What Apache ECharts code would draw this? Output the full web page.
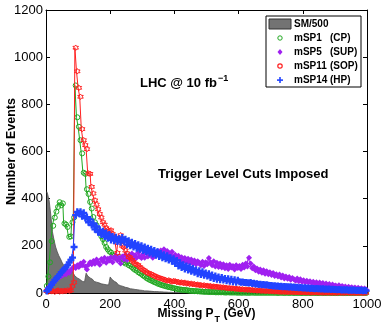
<!DOCTYPE html>
<html>
<head>
<meta charset="utf-8">
<script src="https://cdn.jsdelivr.net/npm/echarts@6/dist/echarts.min.js"></script>
<style>
  html, body { margin: 0; padding: 0; background: #fff; }
  #chart { width: 382px; height: 327px; }
</style>
</head>
<body>
<div id="chart"></div>
<script>
// histogram data, 5 GeV bins from 0 to 1000 GeV
var binWidth = 5
var seriesNames = ['SM/500', 'mSP1', 'mSP5', 'mSP11', 'mSP14']
var seriesTags = ['', '(CP)', '(SUP)', '(SOP)', '(HP)']
var xTicks = [0, 200, 400, 600, 800, 1000]
var yTicks = [0, 200, 400, 600, 800, 1000, 1200]

var smData = [
  430, 420, 390, 330, 260, 225, 195, 175, 158, 145,
  130, 118, 108, 98, 90, 80, 98, 84, 72, 64,
  58, 54, 50, 47, 44, 84, 72, 64, 58, 53,
  49, 46, 43, 41, 39, 37, 36, 35, 34, 33,
  68, 58, 50, 44, 39, 35, 31, 28, 26, 24,
  22, 20, 18, 17, 16, 15, 14, 13, 12, 11,
  10, 9, 9, 8, 8, 7, 7, 6, 6, 5,
  5, 5, 4, 4, 4, 3, 3, 3, 3, 2,
  2, 2, 2, 2, 2, 1, 1, 1, 1, 1,
  1, 1, 1, 1, 1, 1, 0, 0, 0, 0,
  0, 0, 0, 0, 0, 0, 0, 0, 0, 0,
  0, 0, 0, 0, 0, 0, 0, 0, 0, 0,
  0, 0, 0, 0, 0, 0, 0, 0, 0, 0,
  0, 0, 0, 0, 0, 0, 0, 0, 0, 0,
  0, 0, 0, 0, 0, 0, 0, 0, 0, 0,
  0, 0, 0, 0, 0, 0, 0, 0, 0, 0,
  0, 0, 0, 0, 0, 0, 0, 0, 0, 0,
  0, 0, 0, 0, 0, 0, 0, 0, 0, 0,
  0, 0, 0, 0, 0, 0, 0, 0, 0, 0,
  0, 0, 0, 0, 0, 0, 0, 0, 0, 0
]

var msp1Data = [
  30, 70, 130, 220, 285, 320, 345, 365, 385, 372,
  380, 295, 290, 280, 238, 240, 300, 320, 880, 745,
  705, 648, 592, 510, 505, 440, 420, 386, 358, 322,
  300, 287, 266, 258, 240, 228, 212, 195, 185, 176,
  172, 162, 158, 150, 148, 153, 142, 135, 130, 125,
  132, 118, 115, 110, 103, 98, 95, 88, 84, 80,
  74, 70, 64, 60, 56, 53, 50, 46, 44, 40,
  38, 35, 33, 31, 29, 27, 25, 24, 22, 21,
  19, 18, 16, 15, 14, 13, 13, 12, 11, 10,
  9, 9, 8, 8, 7, 7, 6, 6, 5, 5,
  5, 4, 4, 4, 4, 3, 3, 3, 3, 3,
  3, 2, 2, 3, 2, 2, 2, 2, 2, 1,
  2, 1, 1, 2, 1, 1, 1, 1, 2, 1,
  1, 1, 1, 1, 1, 1, 1, 1, 1, 1,
  1, 1, 1, 1, 0, 1, 1, 1, 0, 1,
  1, 0, 1, 1, 0, 1, 0, 1, 0, 0,
  1, 0, 0, 1, 0, 0, 1, 0, 0, 0,
  0, 1, 0, 0, 0, 1, 0, 0, 0, 0,
  0, 0, 0, 1, 0, 0, 0, 0, 0, 0,
  0, 0, 0, 0, 0, 0, 1, 0, 0, 0
]

var msp5Data = [
  15, 22, 30, 38, 42, 50, 58, 64, 68, 72,
  75, 84, 80, 92, 86, 98, 104, 112, 106, 118,
  110, 125, 118, 132, 112, 100, 120, 130, 122, 136,
  124, 142, 130, 120, 144, 134, 150, 128, 145, 138,
  152, 130, 148, 160, 138, 150, 125, 155, 142, 162,
  140, 158, 150, 168, 145, 160, 150, 172, 155, 148,
  165, 150, 170, 155, 162, 175, 150, 168, 158, 178,
  160, 180, 165, 185, 160, 178, 170, 160, 175, 150,
  162, 145, 158, 140, 152, 135, 148, 130, 145, 128,
  142, 125, 138, 122, 135, 128, 118, 132, 115, 130,
  122, 148, 130, 118, 135, 112, 128, 110, 125, 108,
  122, 105, 118, 102, 120, 108, 115, 100, 118, 106,
  115, 102, 120, 108, 125, 112, 150, 125, 105, 112,
  96, 104, 90, 100, 86, 96, 82, 92, 80, 88,
  76, 85, 72, 80, 70, 78, 66, 74, 62, 70,
  60, 68, 56, 64, 58, 52, 62, 50, 58, 48,
  54, 46, 52, 44, 50, 42, 48, 40, 46, 38,
  44, 36, 42, 34, 40, 32, 38, 30, 36, 30,
  32, 27, 33, 25, 30, 24, 28, 22, 26, 21,
  24, 19, 23, 18, 22, 17, 20, 16, 19, 15
]

var msp11Data = [
  8, 6, 10, 7, 9, 5, 8, 11, 6, 9,
  7, 10, 8, 12, 9, 11, 30, 45, 1040, 940,
  870, 832, 695, 648, 627, 610, 507, 505, 450, 422,
  393, 375, 355, 335, 320, 300, 290, 275, 268, 262,
  266, 250, 238, 215, 170, 232, 245, 200, 195, 180,
  168, 153, 150, 140, 132, 125, 120, 118, 110, 104,
  98, 95, 89, 85, 82, 80, 76, 72, 70, 66,
  64, 62, 60, 57, 55, 52, 54, 50, 48, 51,
  50, 46, 47, 44, 45, 42, 44, 40, 41, 38,
  40, 37, 38, 35, 36, 33, 34, 31, 33, 30,
  31, 29, 30, 27, 28, 26, 27, 24, 25, 23,
  24, 22, 22, 20, 21, 19, 20, 18, 18, 17,
  17, 15, 16, 14, 15, 13, 14, 12, 13, 11,
  12, 10, 11, 10, 9, 10, 8, 9, 8, 8,
  7, 8, 6, 7, 6, 6, 5, 6, 5, 5,
  4, 5, 4, 4, 4, 3, 4, 3, 3, 3,
  3, 3, 2, 3, 2, 2, 2, 3, 2, 2,
  2, 2, 1, 2, 2, 1, 2, 1, 1, 2,
  1, 1, 2, 1, 1, 1, 1, 2, 1, 1,
  1, 1, 1, 0, 1, 1, 1, 0, 1, 1
]

var msp14Data = [
  8, 15, 25, 35, 45, 55, 62, 70, 78, 88,
  95, 102, 110, 118, 130, 140, 150, 195, 330, 344,
  338, 345, 325, 340, 318, 322, 300, 312, 288, 295,
  270, 282, 258, 268, 248, 262, 240, 255, 232, 248,
  225, 240, 222, 236, 218, 230, 215, 235, 220, 228,
  205, 222, 200, 215, 195, 210, 190, 205, 185, 200,
  180, 195, 175, 190, 170, 185, 165, 180, 160, 175,
  155, 168, 150, 162, 145, 158, 140, 150, 135, 145,
  125, 138, 115, 128, 108, 120, 102, 115, 98, 110,
  92, 104, 88, 98, 82, 94, 78, 90, 75, 85,
  72, 82, 66, 76, 62, 72, 58, 68, 56, 66,
  55, 62, 52, 60, 50, 58, 48, 56, 46, 54,
  48, 46, 47, 44, 45, 43, 42, 44, 40, 41,
  38, 39, 36, 37, 35, 36, 34, 35, 33, 32,
  32, 30, 31, 29, 30, 28, 29, 27, 28, 26,
  26, 25, 26, 24, 25, 23, 24, 22, 23, 22,
  21, 22, 20, 21, 19, 20, 19, 18, 19, 18,
  18, 17, 18, 16, 17, 16, 17, 15, 16, 15,
  15, 14, 15, 14, 13, 14, 13, 14, 12, 13,
  12, 13, 12, 11, 12, 11, 12, 10, 11, 10
]

var colors = ['#737373', '#22a822', '#a020f0', '#ff2020', '#2244ff']
var fontFamily = 'Liberation Sans, Arial, Helvetica, sans-serif'

var starPath = 'path://M0,-10L2.9,-5L8.66,-5L5.8,0L8.66,5L2.9,5L0,10L-2.9,5L-8.66,5L-5.8,0L-8.66,-5L-2.9,-5Z'
var plusPath = 'path://M2,0H4V2H6V4H4V6H2V4H0V2H2Z'

// pair bin centres with values
function toPoints (values) {
  return values.map(function (v, i) {
    return [i * binWidth + binWidth / 2, v]
  })
}

function markerSeries (idx, values, symbol, size, hollow) {
  return {
    name: seriesNames[idx],
    type: 'line',
    step: 'middle',
    data: toPoints(values),
    symbol: symbol,
    symbolSize: size,
    showAllSymbol: true,
    lineStyle: { color: colors[idx], width: 1 },
    itemStyle: hollow
      ? { color: 'rgba(0,0,0,0)', borderColor: colors[idx], borderWidth: 1 }
      : { color: colors[idx], borderWidth: 0 },
    emphasis: { disabled: true },
    z: 3 + idx
  }
}

var chart = echarts.init(document.getElementById('chart'), null, { renderer: 'canvas' })

// legend drawn by hand, matlab style
var lx = 266
var ly = 16
var rowH = 14
var legendItems = [
  { type: 'rect', shape: { x: lx, y: ly, width: 95, height: 71 }, style: { fill: '#fff', stroke: '#000', lineWidth: 1 } },
  { type: 'rect', shape: { x: lx + 3, y: ly + 3, width: 22, height: 10 }, style: { fill: colors[0], stroke: '#333', lineWidth: 1 } },
  { type: 'circle', shape: { cx: lx + 14, cy: ly + 8 + rowH, r: 2.2 }, style: { fill: 'none', stroke: colors[1], lineWidth: 1 } },
  { type: 'polygon', shape: { points: [[lx + 14, ly + 5 + rowH * 2], [lx + 16.5, ly + 8 + rowH * 2], [lx + 14, ly + 11 + rowH * 2], [lx + 11.5, ly + 8 + rowH * 2]] }, style: { fill: colors[2] } },
  { type: 'circle', shape: { cx: lx + 14, cy: ly + 8 + rowH * 3, r: 2.2 }, style: { fill: 'none', stroke: colors[3], lineWidth: 1.2 } },
  { type: 'rect', shape: { x: lx + 11, y: ly + 7.3 + rowH * 4, width: 6, height: 1.6 }, style: { fill: colors[4] } },
  { type: 'rect', shape: { x: lx + 13.2, y: ly + 5 + rowH * 4, width: 1.6, height: 6 }, style: { fill: colors[4] } }
]
seriesNames.forEach(function (name, i) {
  legendItems.push({
    type: 'text',
    style: { text: name, x: lx + 28, y: ly + 8 + rowH * i, verticalAlign: 'middle', font: 'bold 10px ' + fontFamily, fill: '#000' }
  })
  if (seriesTags[i]) {
    legendItems.push({
      type: 'text',
      style: { text: seriesTags[i], x: lx + 64, y: ly + 8 + rowH * i, verticalAlign: 'middle', font: 'bold 10px ' + fontFamily, fill: '#000' }
    })
  }
})

var axisBase = {
  type: 'value',
  axisLine: { show: true, onZero: false, lineStyle: { color: '#000', width: 1 } },
  axisTick: { show: true, inside: true, length: 4, lineStyle: { color: '#000' } },
  splitLine: { show: false }
}

// plain numbers, no thousands separator
function plainLabel (v) {
  return String(v)
}

var option = {
  animation: false,
  backgroundColor: '#fff',
  textStyle: { fontFamily: fontFamily },
  grid: { left: 46, right: 15, top: 10, bottom: 34, containLabel: false, outerBoundsMode: 'none' },
  xAxis: [
    Object.assign({}, axisBase, {
      min: xTicks[0],
      max: xTicks[xTicks.length - 1],
      interval: xTicks[1] - xTicks[0],
      position: 'bottom',
      axisLabel: { color: '#000', fontSize: 13, margin: 5, fontFamily: fontFamily, formatter: plainLabel },
      name: '{a|Missing P}{s|T}{a| (GeV)}',
      nameLocation: 'middle',
      nameGap: 15,
      nameMoveOverlap: false,
      nameTextStyle: {
        rich: {
          a: { fontSize: 12, fontWeight: 'bold', color: '#000', verticalAlign: 'top', fontFamily: fontFamily },
          s: { fontSize: 9, fontWeight: 'bold', color: '#000', verticalAlign: 'top', padding: [7, 0, 0, 1], fontFamily: fontFamily }
        }
      }
    }),
    Object.assign({}, axisBase, {
      min: xTicks[0],
      max: xTicks[xTicks.length - 1],
      interval: xTicks[1] - xTicks[0],
      position: 'top',
      axisLabel: { show: false }
    })
  ],
  yAxis: [
    Object.assign({}, axisBase, {
      min: yTicks[0],
      max: yTicks[yTicks.length - 1],
      interval: yTicks[1] - yTicks[0],
      position: 'left',
      axisLabel: { color: '#000', fontSize: 13, margin: 3, fontFamily: fontFamily, formatter: plainLabel },
      name: 'Number of Events',
      nameLocation: 'middle',
      nameGap: 28,
      nameMoveOverlap: false,
      nameTextStyle: { fontSize: 12.5, fontWeight: 'bold', color: '#000', fontFamily: fontFamily }
    }),
    Object.assign({}, axisBase, {
      min: yTicks[0],
      max: yTicks[yTicks.length - 1],
      interval: yTicks[1] - yTicks[0],
      position: 'right',
      axisLabel: { show: false }
    })
  ],
  graphic: [
    {
      type: 'text',
      left: 140,
      top: 74,
      style: {
        text: '{a|LHC @ 10 fb}{b|−1}',
        rich: {
          a: { fontSize: 13, fontWeight: 'bold', fill: '#000', verticalAlign: 'bottom', fontFamily: fontFamily },
          b: { fontSize: 9, fontWeight: 'bold', fill: '#000', verticalAlign: 'bottom', padding: [0, 0, 7, 1], fontFamily: fontFamily }
        }
      }
    },
    {
      type: 'text',
      left: 158,
      top: 168,
      style: { text: 'Trigger Level Cuts Imposed', font: 'bold 13px ' + fontFamily, fill: '#000' }
    },
    { type: 'group', children: legendItems, z: 100 }
  ],
  series: [
    {
      name: seriesNames[0],
      type: 'line',
      step: 'middle',
      data: toPoints(smData),
      symbol: 'none',
      lineStyle: { color: '#505050', width: 0.8 },
      areaStyle: { color: colors[0], opacity: 1 },
      emphasis: { disabled: true },
      z: 2
    },
    markerSeries(1, msp1Data, 'circle', 5, true),
    markerSeries(2, msp5Data, 'diamond', 6, false),
    markerSeries(3, msp11Data, starPath, 5.5, true),
    markerSeries(4, msp14Data, plusPath, 7, false)
  ]
}

chart.setOption(option, true)
</script>
</body>
</html>
